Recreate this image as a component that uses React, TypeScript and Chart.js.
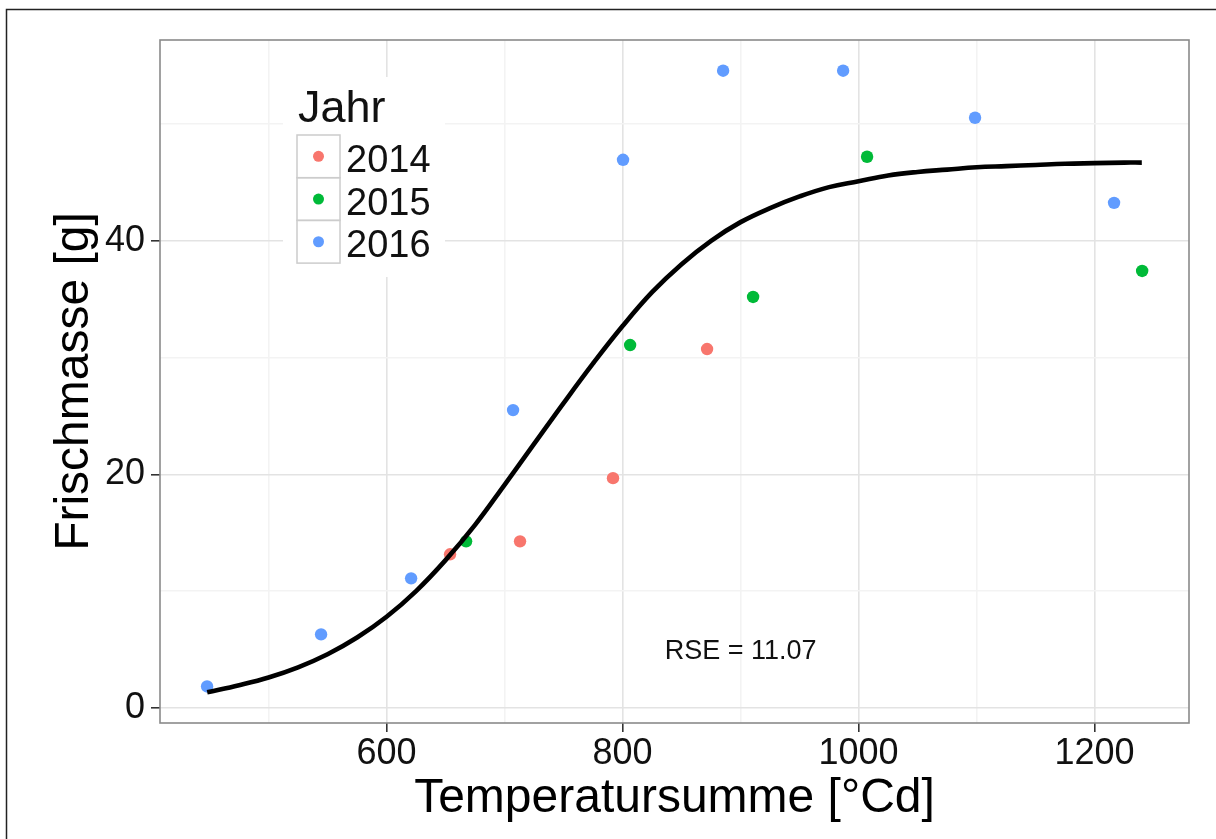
import React, { useEffect, useRef } from "react";
import { Chart, registerables } from "chart.js";
Chart.register(...registerables);

// ---- data ----
const years = ["2014", "2015", "2016"];
const colors = ["#F8766D", "#00BA38", "#619CFF"];

const x2014 = [653.8, 713.1, 791.9, 871.6];
const y2014 = [13.15, 14.26, 19.67, 30.73];

const x2015 = [667.4, 806.4, 910.6, 1007.2, 1240.3];
const y2015 = [14.26, 31.07, 35.19, 47.2, 37.42];

const x2016 = [447.9, 544.5, 620.8, 707.2, 800.4, 885.2, 986.9, 1098.7, 1216.5];
const y2016 = [1.83, 6.29, 11.09, 25.5, 46.94, 54.57, 54.57, 50.54, 43.25];

// fitted curve
const curveX = [448, 475, 500, 525, 550, 575, 600, 625, 650, 675, 700, 725, 750, 775, 800, 825, 850, 875, 900, 925, 950, 975, 1000, 1025, 1050, 1075, 1100, 1125, 1150, 1175, 1200, 1225, 1240];
const curveY = [1.33, 1.94, 2.6, 3.47, 4.59, 6.02, 7.8, 10.0, 12.65, 15.67, 19.1, 22.6, 26.1, 29.5, 32.7, 35.6, 38.0, 40.0, 41.6, 42.8, 43.8, 44.6, 45.1, 45.6, 45.9, 46.1, 46.3, 46.4, 46.5, 46.6, 46.65, 46.7, 46.7];

const xTickLabels = [600, 800, 1000, 1200];
const yTickLabels = [0, 20, 40];

const xTitle = "Temperatursumme [°Cd]";
const yTitle = "Frischmasse [g]";
const legendTitle = "Jahr";
const rseText = "RSE = 11.07";
const rseAt = [900, 4.85];

const FONT = '"Liberation Sans", Arial, Helvetica, sans-serif';

const isIn = (arr: number[], v: number) => arr.some((t) => Math.abs(t - v) < 1e-6);

const decor = {
  id: "decor",
  afterDraw(chart: any) {
    const { ctx, chartArea: a, scales } = chart;
    ctx.save();
    // panel border
    ctx.strokeStyle = "#8a8a8a";
    ctx.lineWidth = 1.6;
    ctx.strokeRect(a.left, a.top, a.right - a.left, a.bottom - a.top);

    // RSE annotation
    ctx.fillStyle = "#111";
    ctx.font = `27px ${FONT}`;
    ctx.textAlign = "center";
    ctx.textBaseline = "middle";
    ctx.fillText(rseText, scales.x.getPixelForValue(rseAt[0]), scales.y.getPixelForValue(rseAt[1]));

    // legend
    const lx = a.left + 123;
    const ly = a.top + 37;
    ctx.fillStyle = "#ffffff";
    ctx.fillRect(lx, ly, 162, 200);
    ctx.fillStyle = "#111";
    ctx.textAlign = "left";
    ctx.textBaseline = "alphabetic";
    ctx.font = `45px ${FONT}`;
    ctx.fillText(legendTitle, lx + 15, ly + 45);
    const kx = lx + 14;
    const ky = ly + 58;
    const ks = 42.7;
    ctx.font = `38px ${FONT}`;
    years.forEach((yr, i) => {
      const top = ky + i * ks;
      ctx.strokeStyle = "#cccccc";
      ctx.lineWidth = 1.5;
      ctx.strokeRect(kx, top, 43, ks);
      ctx.beginPath();
      ctx.fillStyle = colors[i];
      ctx.arc(kx + 21.5, top + ks / 2, 5.5, 0, Math.PI * 2);
      ctx.fill();
      ctx.fillStyle = "#111";
      ctx.fillText(yr, kx + 49, top + ks / 2 + 15.5);
    });

    // outer frame
    ctx.strokeStyle = "#222";
    ctx.lineWidth = 1.5;
    ctx.beginPath();
    ctx.moveTo(6.5, 839);
    ctx.lineTo(6.5, 9.5);
    ctx.lineTo(1216, 9.5);
    ctx.stroke();
    ctx.restore();
  },
};

export default function App() {
  const ref = useRef<HTMLCanvasElement>(null);
  useEffect(() => {
    if (!ref.current) return;
    const pts = (xs: number[], ys: number[]) => xs.map((x, i) => ({ x, y: ys[i] }));
    const series = [pts(x2014, y2014), pts(x2015, y2015), pts(x2016, y2016)];
    const chart = new Chart(ref.current, {
      type: "scatter",
      data: {
        datasets: [
          {
            type: "line",
            label: "fit",
            data: pts(curveX, curveY),
            borderColor: "#000",
            borderWidth: 4.6,
            pointRadius: 0,
            showLine: true,
            fill: false,
            tension: 0.4,
            borderCapStyle: "butt",
            order: 0,
          } as any,
          ...years.map((yr, i) => ({
            label: yr,
            data: series[i],
            backgroundColor: colors[i],
            borderWidth: 0,
            pointRadius: 6.2,
            order: 1,
          })),
        ],
      },
      options: {
        animation: false,
        responsive: false,
        devicePixelRatio: 1,
        layout: { padding: { left: 0, top: 40, right: 27, bottom: 0 } },
        plugins: { legend: { display: false }, tooltip: { enabled: false } },
        scales: {
          x: {
            type: "linear",
            min: 408,
            max: 1280,
            afterFit: (s: any) => {
              s.height = 116;
            },
            border: { display: false },
            grid: {
              color: (c: any) => (c.tick && isIn(xTickLabels, c.tick.value) ? "#e3e3e3" : "#f3f3f3"),
              lineWidth: 1.6,
              drawTicks: true,
              tickLength: 9,
              tickWidth: 1.6,
              tickColor: (c: any) => (c.tick && isIn(xTickLabels, c.tick.value) ? "#333" : "rgba(0,0,0,0)"),
            },
            ticks: {
              stepSize: 100,
              includeBounds: false,
              autoSkip: false,
              maxRotation: 0,
              padding: 4,
              color: "#111",
              font: { family: FONT, size: 36, lineHeight: 1 },
              callback: (v: any) => (isIn(xTickLabels, Number(v)) ? String(v) : ""),
            },
            title: {
              display: true,
              text: xTitle,
              color: "#000",
              font: { family: FONT, size: 48, lineHeight: 1.2 },
              padding: { top: 0, bottom: 11 },
            },
          },
          y: {
            type: "linear",
            min: -1.3,
            max: 57.2,
            afterFit: (s: any) => {
              s.width = 160;
            },
            border: { display: false },
            grid: {
              color: (c: any) => (c.tick && isIn(yTickLabels, c.tick.value) ? "#e3e3e3" : "#f3f3f3"),
              lineWidth: 1.6,
              drawTicks: true,
              tickLength: 9,
              tickWidth: 1.6,
              tickColor: (c: any) => (c.tick && isIn(yTickLabels, c.tick.value) ? "#333" : "rgba(0,0,0,0)"),
            },
            ticks: {
              stepSize: 10,
              includeBounds: false,
              autoSkip: false,
              padding: 6,
              color: "#111",
              font: { family: FONT, size: 36, lineHeight: 1 },
              callback: (v: any) => (isIn(yTickLabels, Number(v)) ? String(v) : ""),
            },
            title: {
              display: true,
              text: yTitle,
              color: "#000",
              font: { family: FONT, size: 48, lineHeight: 1.2 },
              padding: { top: 46, bottom: 0 },
            },
          },
        },
      },
      plugins: [decor],
    });
    return () => chart.destroy();
  }, []);

  return (
    <div style={{ position: "absolute", left: 0, top: 0, width: 1216, height: 839, background: "#fff" }}>
      <canvas ref={ref} width={1216} height={839} style={{ display: "block" }} />
    </div>
  );
}
